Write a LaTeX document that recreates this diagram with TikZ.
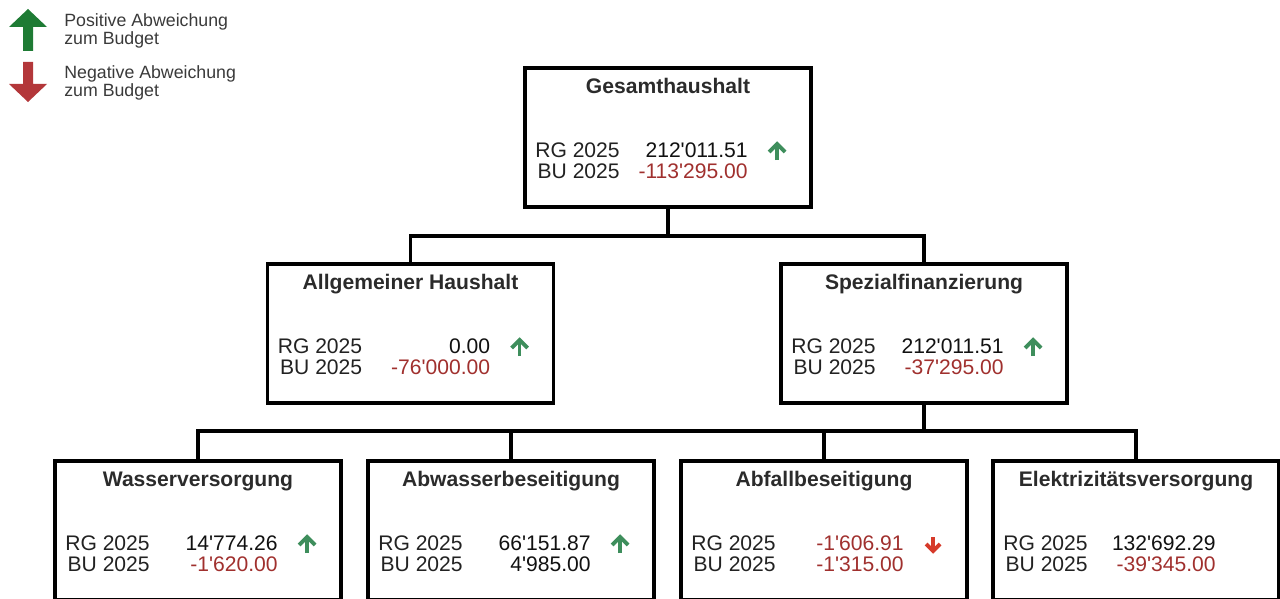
\documentclass[tikz,border=0pt]{standalone}
\usepackage{fontspec}
\setmainfont{Liberation Sans}
\usepackage{xcolor}
\usepackage{tikz}
\usetikzlibrary{positioning,calc}
\definecolor{titlegray}{HTML}{2B2B2B}
\definecolor{txtgray}{HTML}{222222}
\definecolor{numblack}{HTML}{111111}
\definecolor{numred}{HTML}{A0302E}
\definecolor{leggray}{HTML}{3A3A3A}
\definecolor{upgreen}{HTML}{1E7B34}
\definecolor{downred}{HTML}{B3373A}
\definecolor{smallgreen}{HTML}{3E8E5C}
\definecolor{smallred}{HTML}{D63A2A}
\newcommand{\q}{\textquotesingle}

\begin{document}
\begin{tikzpicture}[x=0.02cm,y=-0.02cm,line join=miter,
  finbox/.style={draw=black,line width=2.2pt,minimum width=5.72cm,minimum height=2.78cm,inner sep=0pt,outer sep=0pt,anchor=north},
  conn/.style={draw=black,line width=2.2pt},
  boxtitle/.style={font=\bfseries\fontsize{12}{14}\selectfont,text=titlegray,anchor=base,inner sep=0pt},
  lbl/.style={font=\fontsize{12}{14}\selectfont,text=txtgray,anchor=base east,inner sep=0pt},
  val/.style={font=\fontsize{12}{14}\selectfont,anchor=base east,inner sep=0pt},
  legtext/.style={font=\fontsize{10.1}{10.3}\selectfont,text=leggray,align=left,anchor=north west,inner sep=0pt},
  smallarrow/.style={line width=2.2pt}]
  \useasboundingbox (0,0) rectangle (1280,598);

  % #1 is name
  % #2 is x of top centre, #3 is y of top
  % #4 is title, #5 is RG value, #6 is BU value
  % #7 and #8 are colours of the values
  \newcommand{\defbox}[8]{
    \node[finbox] (#1) at (#2,#3) {};
    \node[boxtitle] (#1-title) at ($(#1.north)+(0,25)$) {#4};
    \node[lbl] (#1-rgl) at ($(#1.north west)+(95,89)$) {RG 2025};
    \node[lbl] (#1-bul) at ($(#1.north west)+(95,110)$) {BU 2025};
    \node[val,text=#7] (#1-rg) at ($(#1.north west)+(223,89)$) {#5};
    \node[val,text=#8] (#1-bu) at ($(#1.north west)+(223,110)$) {#6};
  }

  % #1 is box name
  \newcommand{\posarrow}[1]{
    \draw[smallarrow,smallgreen] ($(#1.north west)+(252,92)$) -- ($(#1.north west)+(252,77)$);
    \draw[smallarrow,smallgreen] ($(#1.north west)+(244,84)$) -- ($(#1.north west)+(252,76)$) -- ($(#1.north west)+(260,84)$);
  }
  \newcommand{\negarrow}[1]{
    \draw[smallarrow,smallred] ($(#1.north west)+(252,76)$) -- ($(#1.north west)+(252,89)$);
    \draw[smallarrow,smallred] ($(#1.north west)+(245,83)$) -- ($(#1.north west)+(252,90)$) -- ($(#1.north west)+(259,83)$);
  }

  % legend
  \fill[upgreen] (28,9) -- (47,27) -- (33,27) -- (33,51) -- (23,51) -- (23,27) -- (9,27) -- cycle;
  \fill[downred] (23,62) -- (33,62) -- (33,84) -- (47,84) -- (28,102) -- (9,84) -- (23,84) -- cycle;
  \node[legtext] (leg-pos) at (64,13) {Positive Abweichung\\zum Budget};
  \node[legtext] (leg-neg) at (64,65) {Negative Abweichung\\zum Budget};

  \defbox{ges}{668}{68}{Gesamthaushalt}{212\q011.51}{-113\q295.00}{numblack}{numred}
  \posarrow{ges}

  \defbox{allg}{410.5}{264}{Allgemeiner Haushalt}{0.00}{-76\q000.00}{numblack}{numred}
  \posarrow{allg}
  \defbox{spez}{924}{264}{Spezialfinanzierung}{212\q011.51}{-37\q295.00}{numblack}{numred}
  \posarrow{spez}

  \defbox{wasser}{198}{461}{Wasserversorgung}{14\q774.26}{-1\q620.00}{numblack}{numred}
  \posarrow{wasser}
  \defbox{abw}{511}{461}{Abwasserbeseitigung}{66\q151.87}{4\q985.00}{numblack}{numblack}
  \posarrow{abw}
  \defbox{abf}{824}{461}{Abfallbeseitigung}{-1\q606.91}{-1\q315.00}{numred}{numred}
  \negarrow{abf}
  \defbox{elek}{1136}{461}{Elektrizitätsversorgung}{132\q692.29}{-39\q345.00}{numblack}{numred}

  \draw[conn] (ges.south) -- ++(0,29) -| (allg.north);
  \draw[conn] (ges.south) -- ++(0,29) -| (spez.north);
  \draw[conn] (spez.south) -- ++(0,28) -| (wasser.north);
  \draw[conn] (spez.south) -- ++(0,28) -| (abw.north);
  \draw[conn] (spez.south) -- ++(0,28) -| (abf.north);
  \draw[conn] (spez.south) -- ++(0,28) -| (elek.north);

\end{tikzpicture}
\end{document}
